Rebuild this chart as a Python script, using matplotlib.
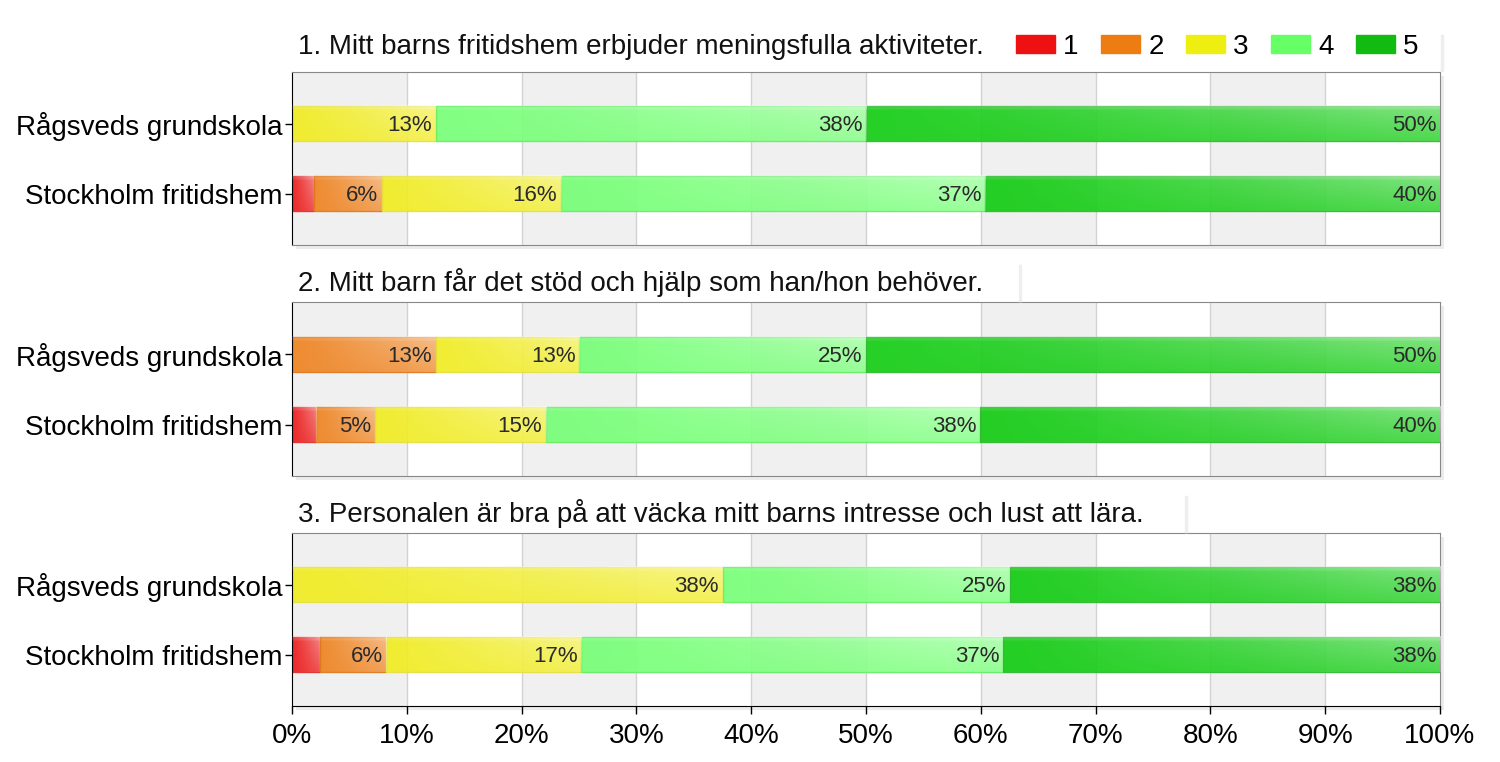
import numpy as np
import matplotlib
matplotlib.use("Agg")
import matplotlib.pyplot as plt
from matplotlib.patches import Patch, Rectangle
from matplotlib.lines import Line2D

plt.rcParams['font.family'] = ['Liberation Sans', 'DejaVu Sans']

questions = [
    "1. Mitt barns fritidshem erbjuder meningsfulla aktiviteter.",
    "2. Mitt barn får det stöd och hjälp som han/hon behöver.",
    "3. Personalen är bra på att väcka mitt barns intresse och lust att lära.",
]
schools = ["Rågsveds grundskola", "Stockholm fritidshem"]
answers = ["1", "2", "3", "4", "5"]

# share of answers 1..5 (percent) per school
q1_ragsved = [0.0, 0.0, 12.5, 37.5, 50.0]
q1_stockholm = [1.9, 5.9, 15.6, 37.0, 39.6]
q2_ragsved = [0.0, 12.5, 12.5, 25.0, 50.0]
q2_stockholm = [2.1, 5.1, 14.9, 37.8, 40.1]
q3_ragsved = [0.0, 0.0, 37.5, 25.0, 37.5]
q3_stockholm = [2.4, 5.8, 17.0, 36.7, 38.1]

panels = [
    [q1_ragsved, q1_stockholm],
    [q2_ragsved, q2_stockholm],
    [q3_ragsved, q3_stockholm],
]

colors = ['#ec1a1a', '#ee8422', '#f0ec22', '#77ff77', '#14cc14']
edges = ['#dd3333', '#e07a20', '#e6e040', '#66ee66', '#33bb33']
legend_colors = ['#ee1111', '#ee7d11', '#eeee11', '#66ff66', '#11bb11']

W, H = 1500, 762
fig = plt.figure(figsize=(15, 7.62), dpi=100)

# axes boxes in pixels: (top, bottom)
boxes = [(72, 245), (302, 476), (533, 706)]
title_y = [47, 283, 513]
x0, x1 = 292, 1440

bar_h = 0.5


def sheen(ax, left, width, y, h):
    nx, ny = 64, 16
    xs = np.linspace(0, 1, nx)
    ys = np.linspace(0, 1, ny)
    img = np.ones((ny, nx, 4))
    img[..., 3] = 0.42 * xs[None, :] ** 1.2 * (1 - 0.55 * ys[:, None])
    img[0:2, :, 3] += 0.1
    ax.imshow(img, extent=(left, left + width, y + h / 2, y - h / 2),
              aspect='auto', interpolation='bilinear', zorder=3)


axes = []
for k, (top, bot) in enumerate(boxes):
    # shadow
    fig.patches.append(Rectangle(((x0 + 4) / W, 1 - (bot + 4) / H), (x1 - x0) / W, (bot - top) / H,
                                 transform=fig.transFigure, facecolor='#ececec', edgecolor='none', zorder=-5))
    ax = fig.add_axes([x0 / W, 1 - bot / H, (x1 - x0) / W, (bot - top) / H])
    ax.set_facecolor('white')
    for d in range(0, 100, 20):
        ax.axvspan(d, d + 10, color='#f0f0f0', zorder=0, lw=0)
    for d in range(10, 100, 10):
        ax.axvline(d, color='#d2d2d2', lw=1, zorder=1)

    for i, vals in enumerate(panels[k]):
        left = 0.0
        for j, v in enumerate(vals):
            ax.barh(i, v, left=left, height=bar_h, color=colors[j], edgecolor=edges[j],
                    linewidth=1, alpha=0.92, zorder=2)
            if v > 0:
                sheen(ax, left, v, i, bar_h)
            if v >= 4:
                ax.text(left + v - 0.3, i + 0.03, f"{int(v + 0.5)}%", ha='right', va='center',
                        fontsize=16, color='#2a2a2a', zorder=5)
            left += v

    ax.set_xlim(0, 100)
    ax.set_ylim(1.73, -0.74)
    ax.set_yticks(range(len(schools)))
    ax.set_yticklabels(schools, fontsize=20)
    ax.tick_params(axis='y', length=5, width=1, color='black', pad=2)
    for s in ['top', 'right']:
        ax.spines[s].set_color('#888888')
    ax.spines['left'].set_color('black')
    ax.set_xticks(range(0, 101, 10))
    if k == 2:
        ax.set_xticklabels([f"{d}%" for d in range(0, 101, 10)], fontsize=20)
        ax.tick_params(axis='x', length=6, width=1, color='black', pad=6)
        ax.spines['bottom'].set_color('black')
    else:
        ax.tick_params(axis='x', length=0, labelbottom=False)
        ax.spines['bottom'].set_color('#888888')
    axes.append(ax)

titles = []
for k, q in enumerate(questions):
    t = fig.text(298 / W, 1 - title_y[k] / H, q, fontsize=20, va='center', ha='left', color='#111111')
    titles.append(t)

handles = [Patch(facecolor=c, edgecolor=c, label=a) for c, a in zip(legend_colors, answers)]
leg = fig.legend(handles=handles, loc='center left', bbox_to_anchor=(991 / W, 1 - 47 / H), ncol=5,
                 frameon=False, fontsize=20, handlelength=1.4, handleheight=0.62,
                 handletextpad=0.3, columnspacing=0.8)

# faint shadow at right end of the title boxes
fig.canvas.draw()
r = fig.canvas.get_renderer()
ends = [x1 + 2, titles[1].get_window_extent(r).x1 + 37, titles[2].get_window_extent(r).x1 + 42]
for k, xe in enumerate(ends):
    top = boxes[k][0]
    fig.add_artist(Line2D([xe / W, xe / W], [1 - (top - 2) / H, 1 - (top - 36) / H],
                          transform=fig.transFigure, color='#eeeeee', lw=2.5))

fig.savefig("out.png", dpi=100, facecolor='white')
